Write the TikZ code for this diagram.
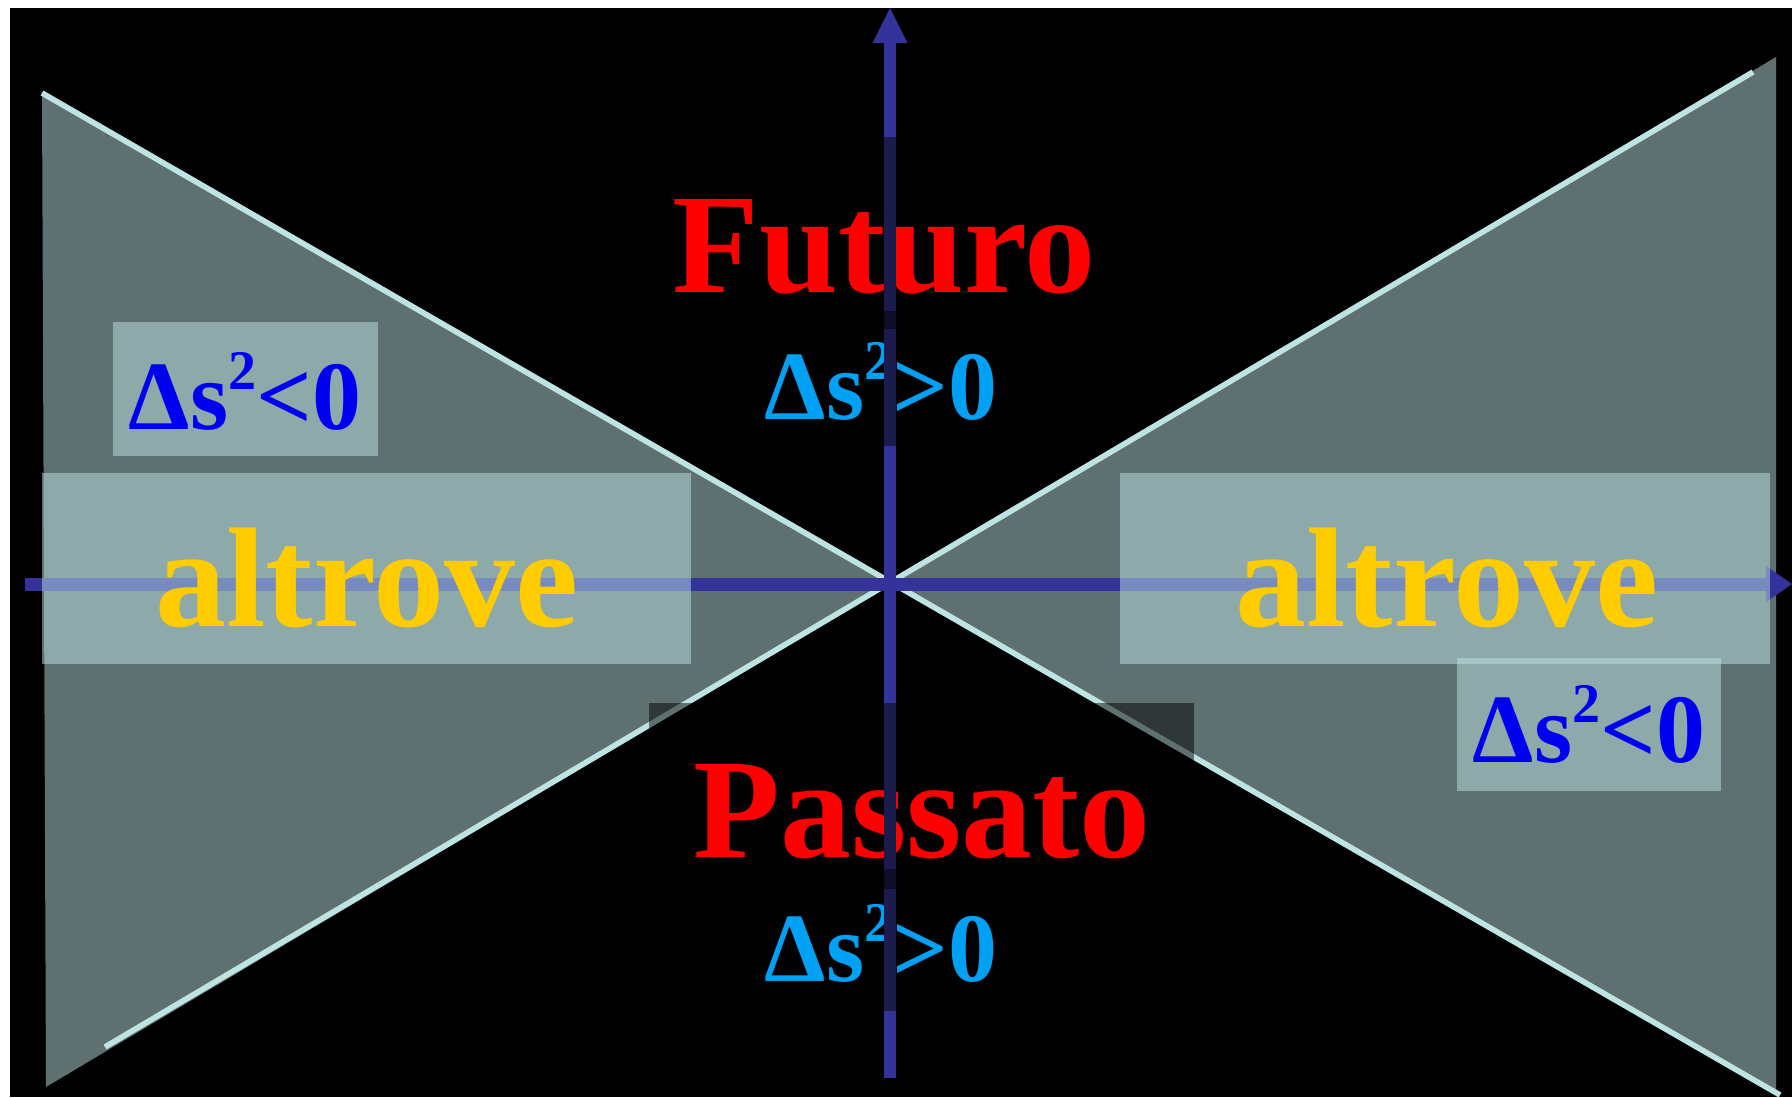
\documentclass[tikz,border=0pt]{standalone}
\usepackage{fontspec}
\setmainfont{Liberation Serif}
\definecolor{bgray}{HTML}{5F7070}
\definecolor{lcyan}{HTML}{BDE3E3}
\definecolor{axb}{HTML}{333399}
\definecolor{axd}{HTML}{1B1B4D}
\definecolor{axdd}{HTML}{0E0E26}
\definecolor{skyc}{HTML}{00A0F5}
\definecolor{deepb}{HTML}{0000F0}
\definecolor{goldy}{HTML}{FFCC00}
\newcommand{\mydsq}[1]{Δs\raisebox{20pt}{\fontsize{28}{28}\selectfont 2}#10}
\begin{document}
\begin{tikzpicture}[x=0.5pt,y=-0.5pt,
  lightline/.style={lcyan, line width=2.8pt},
  glassbox/.style={fill=lcyan, fill opacity=0.5},
  bigtxt/.style={inner sep=0, anchor=base, font=\bfseries\fontsize{71}{71}\selectfont},
  dstxt/.style={inner sep=0, anchor=base, font=\bfseries\fontsize{49}{49}\selectfont},
  axseg/.style={line width=6pt}]
\useasboundingbox (0,0) rectangle (1792,1097);
\fill[white] (0,0) rectangle (1792,1097);
\fill[black] (10,8) rectangle (1792,1097);
% cones (elsewhere regions)
\fill[bgray] (42,93) -- (890,584) -- (46,1087) -- cycle;
\fill[bgray] (890,584) -- (1776,57) -- (1776,1093) -- cycle;
% light cone lines
\coordinate (O) at (890,584);
\coordinate (L1a) at (42,93);
\coordinate (L1b) at (1780,1095);
\coordinate (L2a) at (105,1047);
\coordinate (L2b) at (1753,72);
\draw[lightline] (L1a) -- (L1b);
\draw[lightline] (L2a) -- (L2b);
% dark box behind Passato
\fill[black, opacity=0.5] (649,703) rectangle (1194,887);
% horizontal axis
\coordinate (HX0) at (25,584);
\coordinate (HX1) at (1766,584);
\draw[axb, line width=6.5pt] (HX0) -- (HX1);
\fill[axb] (1792,584) -- (1766,566) -- (1766,602) -- cycle;
% glass boxes
\fill[glassbox] (42,473) rectangle (691,664);
\fill[glassbox] (1120,473) rectangle (1770,664);
\fill[glassbox] (113,322) rectangle (378,456);
\fill[glassbox] (1457,658) rectangle (1721,791);
% texts
\node[bigtxt, text={rgb,255:red,255;green,0;blue,0}] (fut) at (884,292) {Futuro};
\node[bigtxt, text={rgb,255:red,255;green,0;blue,0}] (pas) at (922,857) {Passato};
\node[bigtxt, text=goldy] (altL) at (367,626) {altrove};
\node[bigtxt, text=goldy] (altR) at (1447,626) {altrove};
\node[dstxt, text=skyc] (dsT) at (881,419) {\mydsq{>}};
\node[dstxt, text=skyc] (dsB) at (881,981) {\mydsq{>}};
\node[dstxt, text=deepb] (dsL) at (245,429) {\mydsq{<}};
\node[dstxt, text=deepb] (dsR) at (1589,762) {\mydsq{<}};
% vertical axis (segments)
\draw[axseg, axb] (890,42) -- (890,137);
\draw[axseg, axd] (890,137) -- (890,311);
\draw[axseg, axdd] (890,311) -- (890,329);
\draw[axseg, axd] (890,329) -- (890,446);
\draw[axseg, axb] (890,446) -- (890,703);
\draw[axseg, axd] (890,703) -- (890,869);
\draw[axseg, axdd] (890,869) -- (890,889);
\draw[axseg, axd] (890,889) -- (890,1011);
\draw[axseg, axb] (890,1011) -- (890,1078);
\fill[axb] (890,8) -- (872.5,43) -- (907.5,43) -- cycle;
\end{tikzpicture}
\end{document}
